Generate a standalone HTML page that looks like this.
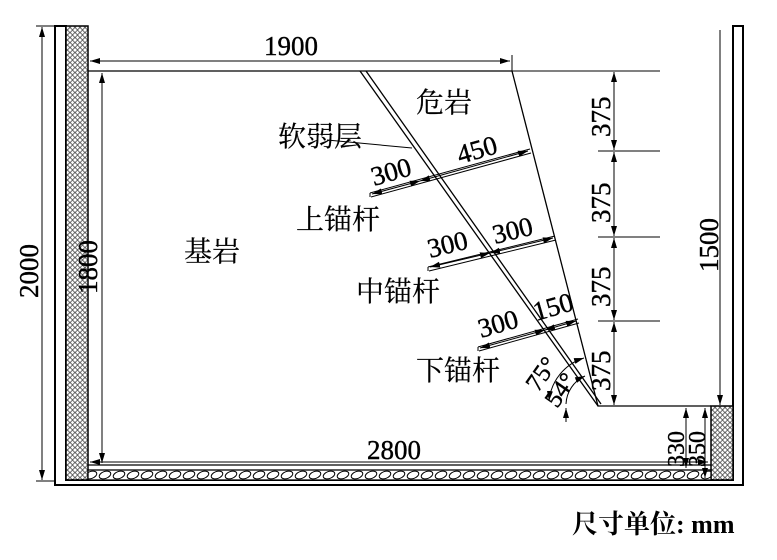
<!DOCTYPE html>
<html><head><meta charset="utf-8"><style>body{margin:0;background:#fff}</style></head><body>
<svg width="777" height="555" viewBox="0 0 777 555" xmlns="http://www.w3.org/2000/svg" font-family="Liberation Serif, 'Noto Serif CJK SC', serif">
<defs>
<pattern id="hx" width="5" height="5" patternUnits="userSpaceOnUse"><rect width="5" height="5" fill="#fff"/><circle cx="2.5" cy="2.5" r="1.8" fill="none" stroke="#000" stroke-width="0.7"/></pattern>
<pattern id="gr" width="14" height="10" patternUnits="userSpaceOnUse"><rect width="14" height="10" fill="#fff"/><ellipse cx="7" cy="5" rx="6" ry="3.5" fill="none" stroke="#000" stroke-width="1" transform="rotate(-20 7 5)"/></pattern>
<marker id="a" markerWidth="10" markerHeight="8" refX="10" refY="4" orient="auto-start-reverse" markerUnits="userSpaceOnUse"><path d="M0,1 L10,4 L0,7 Z" fill="#000"/></marker>
</defs>
<g stroke="#000" fill="none" stroke-width="1.3">
<path d="M55,26 V485 H743 V26 H733 V480 H66 V26 Z" stroke-width="2"/>
<rect x="66" y="26" width="22" height="454" fill="url(#hx)" stroke-width="1.5"/>
<rect x="711" y="406" width="22" height="74" fill="url(#hx)" stroke-width="1.5"/>
<rect x="88" y="470" width="623" height="10" fill="url(#gr)" stroke-width="1.3"/>
<path d="M88,71 H512 L598,406 H711"/>
<line x1="88" y1="465" x2="711" y2="465"/>
<line x1="360" y1="71" x2="598" y2="406"/>
<line x1="366" y1="71" x2="601" y2="404"/>
<g stroke-width="1"><path d="M370,193 L530,149 M371,197 L531,153 M370,193 V197"/>
<path d="M428,267 L555,236 M429,271 L556,240 M428,267 V271"/>
<path d="M478,347 L578,319 M479,351 L579,323 M478,347 V351"/></g>
<g stroke-width="1" marker-start="url(#a)" marker-end="url(#a)">
<line x1="372" y1="194" x2="420" y2="181"/><line x1="420" y1="181" x2="528" y2="151"/>
<line x1="430" y1="267" x2="490" y2="253"/><line x1="490" y1="253" x2="553" y2="238"/>
<line x1="480" y1="348" x2="545" y2="330"/><line x1="545" y1="330" x2="576" y2="321"/>
</g>
<line x1="327" y1="140" x2="412" y2="148" stroke-width="1"/>
<g stroke-width="1">
<line x1="90" y1="61" x2="510" y2="61" marker-start="url(#a)" marker-end="url(#a)"/><line x1="512" y1="55" x2="512" y2="71"/><line x1="88" y1="58" x2="88" y2="71"/>
<line x1="42" y1="27" x2="42" y2="480" marker-start="url(#a)" marker-end="url(#a)"/><line x1="36" y1="26" x2="55" y2="26"/><line x1="36" y1="481" x2="55" y2="481"/>
<line x1="102" y1="73" x2="102" y2="463" marker-start="url(#a)" marker-end="url(#a)"/>
<line x1="90" y1="462" x2="708" y2="462" marker-start="url(#a)" marker-end="url(#a)"/>
<path d="M512,71 H660 M598,151 H660 M598,237 H660 M598,321 H660"/>
<line x1="614" y1="72" x2="614" y2="150" marker-start="url(#a)" marker-end="url(#a)"/>
<line x1="614" y1="152" x2="614" y2="236" marker-start="url(#a)" marker-end="url(#a)"/>
<line x1="614" y1="238" x2="614" y2="320" marker-start="url(#a)" marker-end="url(#a)"/>
<line x1="614" y1="322" x2="614" y2="405" marker-start="url(#a)" marker-end="url(#a)"/>
<line x1="720" y1="30" x2="720" y2="405" marker-end="url(#a)"/>
<line x1="686" y1="408" x2="686" y2="468" marker-start="url(#a)" marker-end="url(#a)"/>
<line x1="705" y1="408" x2="705" y2="478" marker-start="url(#a)" marker-end="url(#a)"/>
<path d="M549,401 A50,50 0 0 1 584,358" marker-start="url(#a)" marker-end="url(#a)"/>
<path d="M566,404 A32,32 0 0 1 585,376" marker-end="url(#a)"/>
<line x1="566" y1="422" x2="566" y2="408" marker-end="url(#a)"/>
</g>
</g>
<g font-size="27" fill="#000" stroke="#000" stroke-width="0.4">
<text x="264" y="55">1900</text>
<text x="367" y="459">2800</text>
<text transform="translate(38,298) rotate(-90)">2000</text>
<text transform="translate(97,294) rotate(-90)">1800</text>
<text transform="translate(718,272) rotate(-90)">1500</text>
<text transform="translate(610,137) rotate(-90)">375</text>
<text transform="translate(610,223) rotate(-90)">375</text>
<text transform="translate(610,307) rotate(-90)">375</text>
<text transform="translate(610,391) rotate(-90)">375</text>
<text transform="translate(684,467) rotate(-90)" font-size="24">330</text>
<text transform="translate(705,467) rotate(-90)" font-size="24">350</text>
<text transform="translate(374,186) rotate(-16)">300</text>
<text transform="translate(460,164) rotate(-16)">450</text>
<text transform="translate(430,258) rotate(-14)">300</text>
<text transform="translate(495,244) rotate(-14)">300</text>
<text transform="translate(481,338) rotate(-16)">300</text>
<text transform="translate(536,321) rotate(-16)">150</text>
<text transform="translate(538,393) rotate(-55)" font-size="25">75°</text>
<text transform="translate(557,409) rotate(-55)" font-size="25">54°</text>
<g font-size="28" stroke-width="0.2">
<text x="416" y="112">危岩</text>
<text x="278" y="146">软弱层</text>
<text x="296" y="229">上锚杆</text>
<text x="184" y="261">基岩</text>
<text x="356" y="301">中锚杆</text>
<text x="416" y="380">下锚杆</text>
</g>
<text x="572" y="533" font-size="26" font-weight="bold" stroke-width="0">尺寸单位: mm</text>
</g>
</svg>
</body></html>
